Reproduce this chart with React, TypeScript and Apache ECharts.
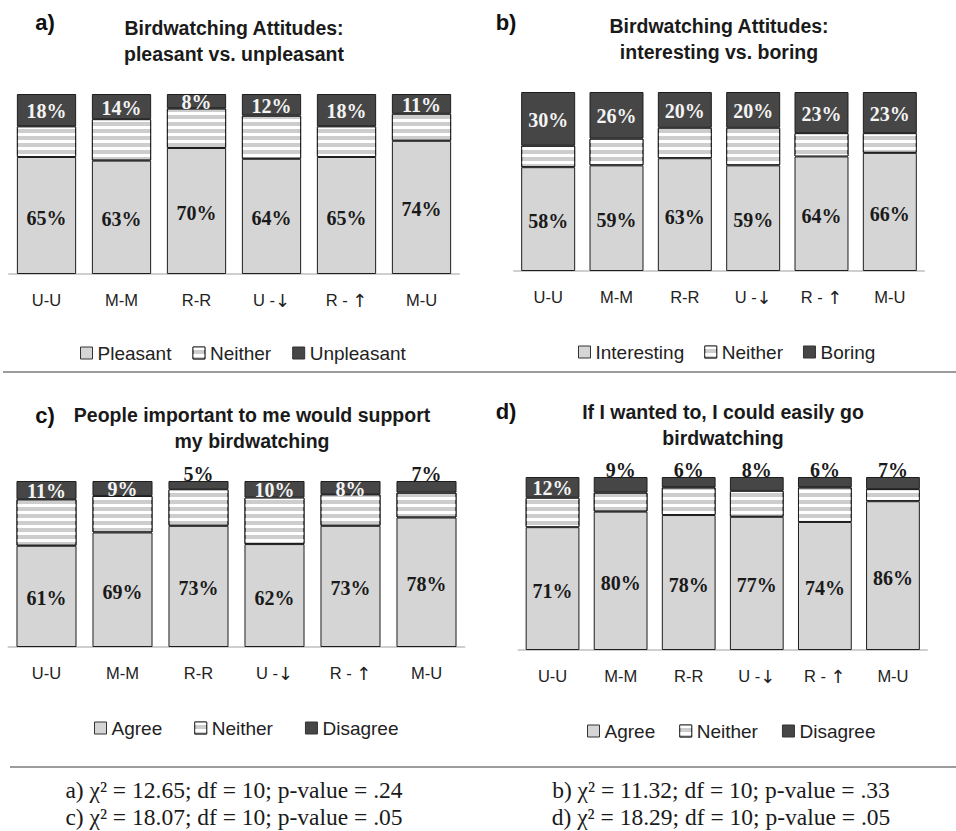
import React, { useEffect, useRef } from 'react';
import * as echarts from 'echarts';

const categories = ['U-U', 'M-M', 'R-R', 'U -↓', 'R - ↑', 'M-U'];

const pleasant = [65, 63, 70, 64, 65, 74];
const neitherA = [17, 23, 22, 24, 17, 15];
const unpleasant = [18, 14, 8, 12, 18, 11];

const interesting = [58, 59, 63, 59, 64, 66];
const neitherB = [12, 15, 17, 21, 13, 11];
const boring = [30, 26, 20, 20, 23, 23];

const agreeC = [61, 69, 73, 62, 73, 78];
const neitherC = [28, 22, 22, 28, 19, 15];
const disagreeC = [11, 9, 5, 10, 8, 7];

const agreeD = [71, 80, 78, 77, 74, 86];
const neitherD = [17, 11, 16, 15, 20, 7];
const disagreeD = [12, 9, 6, 8, 6, 7];

const footnotes = [
  'a) χ² = 12.65; df = 10; p-value = .24',
  'c) χ² = 18.07; df = 10; p-value = .05',
  'b) χ² = 11.32; df = 10; p-value = .33',
  'd) χ² = 18.29; df = 10; p-value = .05',
];

const SANS = '"Liberation Sans", Arial, sans-serif';
const SERIF = '"Liberation Serif", "Times New Roman", serif';
const LIGHT = '#d5d5d5';
const DARK = '#464646';
const BORDER = '#1e1e1e';

const panels = [
  {
    letter: 'a)', letterPos: [45, 22],
    title: 'Birdwatching Attitudes:\npleasant vs. unpleasant', titleX: 234, titleTop: 15,
    names: ['Pleasant', 'Neither', 'Unpleasant'],
    data: [pleasant, neitherA, unpleasant],
    grid: { left: 9, top: 94, width: 450, height: 180 },
    legend: { left: 80, top: 343, itemGap: 21 },
    outside: [] as number[],
  },
  {
    letter: 'b)', letterPos: [506, 22],
    title: 'Birdwatching Attitudes:\ninteresting vs. boring', titleX: 719, titleTop: 13,
    names: ['Interesting', 'Neither', 'Boring'],
    data: [interesting, neitherB, boring],
    grid: { left: 514, top: 92, width: 410, height: 179 },
    legend: { left: 578, top: 342, itemGap: 20 },
    outside: [] as number[],
  },
  {
    letter: 'c)', letterPos: [45, 415],
    title: 'People important to me would support\nmy birdwatching', titleX: 252, titleTop: 402,
    names: ['Agree', 'Neither', 'Disagree'],
    data: [agreeC, neitherC, disagreeC],
    grid: { left: 8.5, top: 481, width: 456, height: 166 },
    legend: { left: 94, top: 718, itemGap: 32 },
    outside: [2, 5],
  },
  {
    letter: 'd)', letterPos: [506, 411],
    title: 'If I wanted to, I could easily go\nbirdwatching', titleX: 723, titleTop: 399,
    names: ['Agree', 'Neither', 'Disagree'],
    data: [agreeD, neitherD, disagreeD],
    grid: { left: 518.5, top: 477, width: 408.5, height: 173 },
    legend: { left: 587, top: 721, itemGap: 24 },
    outside: [1, 2, 3, 4, 5],
  },
];

const labelBase = {
  show: true,
  formatter: '{c}%',
  fontFamily: SERIF,
  fontWeight: 'bold' as const,
  fontSize: 20,
};

function buildOption() {
  const series: any[] = [];
  panels.forEach((p, i) => {
    const stack = 'stack' + i;
    series.push({
      type: 'bar', name: p.names[0], stack, xAxisIndex: i, yAxisIndex: i,
      barCategoryGap: '21%',
      data: p.data[0],
      itemStyle: { color: LIGHT, borderColor: BORDER, borderWidth: 1 },
      label: { ...labelBase, position: 'inside', color: '#1a1a1a', offset: [0, 2] },
    });
    series.push({
      type: 'bar', name: p.names[1], stack, xAxisIndex: i, yAxisIndex: i,
      barCategoryGap: '21%',
      data: p.data[1],
      itemStyle: {
        color: '#cdcdcd', borderColor: BORDER, borderWidth: 1,
        decal: {
          symbol: 'rect', symbolSize: 1, dashArrayX: [1, 0], dashArrayY: [3, 4],
          rotation: 0, color: '#ffffff',
        },
      },
      label: { show: false },
    });
    series.push({
      type: 'bar', name: p.names[2], stack, xAxisIndex: i, yAxisIndex: i,
      barCategoryGap: '21%',
      data: p.data[2].map((v, j) =>
        p.outside.includes(j)
          ? { value: v, label: { position: 'top', color: '#1a1a1a', distance: -2 } }
          : v
      ),
      itemStyle: { color: DARK, borderColor: BORDER, borderWidth: 1 },
      label: { ...labelBase, position: 'inside', color: '#f4f4f4', offset: [0, 1] },
    });
  });

  const graphic: any[] = [];
  panels.forEach((p) => {
    graphic.push({
      type: 'text', x: p.letterPos[0], y: p.letterPos[1],
      style: {
        text: p.letter, fontFamily: SANS, fontWeight: 'bold', fontSize: 22,
        fill: '#111', align: 'center', verticalAlign: 'middle',
      },
    });
  });
  graphic.push({ type: 'line', shape: { x1: 3, y1: 372, x2: 956, y2: 372 }, style: { stroke: '#9c9c9c', lineWidth: 2 } });
  graphic.push({ type: 'line', shape: { x1: 10, y1: 767, x2: 956, y2: 767 }, style: { stroke: '#9c9c9c', lineWidth: 2 } });
  const footPos = [[234, 790], [234, 817], [721, 790], [721, 817]];
  footnotes.forEach((t, i) => {
    graphic.push({
      type: 'text', x: footPos[i][0], y: footPos[i][1],
      style: {
        text: t, fontFamily: SERIF, fontSize: 23.5, fill: '#1a1a1a',
        align: 'center', verticalAlign: 'middle',
      },
    });
  });

  return {
    animation: false,
    backgroundColor: '#ffffff',
    title: panels.map((p) => ({
      text: p.title, left: p.titleX, top: p.titleTop, textAlign: 'center', padding: 0,
      textStyle: { fontFamily: SANS, fontWeight: 'bold', fontSize: 19.5, lineHeight: 26, color: '#1a1a1a' },
    })),
    legend: panels.map((p) => ({
      data: p.names, left: p.legend.left, top: p.legend.top, itemGap: p.legend.itemGap,
      itemWidth: 12, itemHeight: 12, icon: 'rect', selectedMode: false, padding: 0,
      itemStyle: { borderColor: '#333', borderWidth: 1 },
      textStyle: { fontFamily: SANS, fontSize: 19, color: '#222', lineHeight: 20 },
    })),
    grid: panels.map((p) => ({ ...p.grid })),
    xAxis: panels.map((_, i) => ({
      type: 'category', gridIndex: i, data: categories,
      axisTick: { show: false },
      axisLine: { show: true, lineStyle: { color: '#cfcfcf', width: 2 } },
      axisLabel: {
        interval: 0,
        fontFamily: SANS, fontSize: 16.5, lineHeight: 20, color: '#222', margin: 16,
        formatter: (v: string) => v.replace(/([↑↓])/g, '{arr|$1}'),
        rich: {
          arr: { fontFamily: '"DejaVu Sans", sans-serif', fontSize: 18, lineHeight: 20, color: '#222' },
        },
      },
    })),
    yAxis: panels.map((_, i) => ({
      type: 'value', gridIndex: i, min: 0, max: 100, show: false,
    })),
    series,
    graphic,
  };
}

export default function App() {
  const ref = useRef<HTMLDivElement>(null);
  useEffect(() => {
    if (!ref.current) return;
    const chart = echarts.init(ref.current, undefined, { renderer: 'svg' });
    chart.setOption(buildOption() as any);
    return () => chart.dispose();
  }, []);
  return (
    <div
      ref={ref}
      style={{ position: 'fixed', left: 0, top: 0, width: 956, height: 831, background: '#fff' }}
    />
  );
}
